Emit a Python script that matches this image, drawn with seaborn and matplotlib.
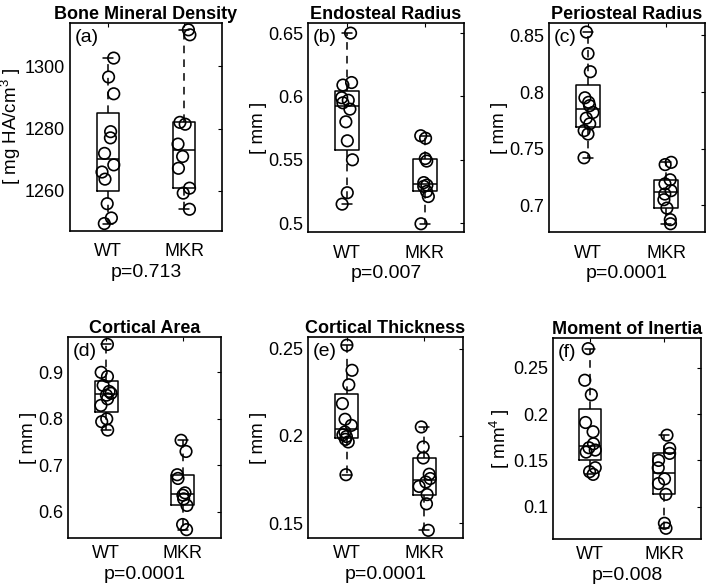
import numpy as np
import pandas as pd
import matplotlib
matplotlib.use("Agg")
import matplotlib.pyplot as plt
import seaborn as sns

groups = ["WT", "MKR"]
titles = ["Bone Mineral Density", "Endosteal Radius", "Periosteal Radius",
          "Cortical Area", "Cortical Thickness", "Moment of Inertia"]
letters = ["(a)", "(b)", "(c)", "(d)", "(e)", "(f)"]
ylabels = ["[ mg HA/cm$^3$ ]", "[ mm ]", "[ mm ]", "[ mm ]", "[ mm ]", "[ mm$^4$ ]"]
p_values = ["p=0.713", "p=0.007", "p=0.0001", "p=0.0001", "p=0.0001", "p=0.008"]

# values
bmd_wt = [1302.7, 1296.6, 1291.2, 1279.0, 1277.0, 1272.0, 1268.3, 1266.0, 1263.7, 1255.8, 1251.2, 1249.4]
bmd_mkr = [1311.8, 1310.2, 1282.0, 1281.4, 1275.0, 1271.0, 1267.2, 1260.8, 1259.2, 1254.0]
endo_wt = [0.650, 0.611, 0.609, 0.599, 0.597, 0.595, 0.590, 0.580, 0.565, 0.550, 0.524, 0.515]
endo_mkr = [0.569, 0.567, 0.551, 0.549, 0.532, 0.530, 0.529, 0.525, 0.521, 0.4995]
peri_wt = [0.853, 0.834, 0.818, 0.795, 0.791, 0.788, 0.782, 0.777, 0.772, 0.766, 0.763, 0.742]
peri_mkr = [0.738, 0.736, 0.7226, 0.719, 0.713, 0.710, 0.705, 0.6976, 0.6874, 0.6838]
area_wt = [0.960, 0.900, 0.891, 0.872, 0.859, 0.855, 0.851, 0.843, 0.829, 0.800, 0.794, 0.776]
area_mkr = [0.754, 0.730, 0.680, 0.672, 0.641, 0.636, 0.628, 0.614, 0.573, 0.562]
thick_wt = [0.252, 0.2376, 0.2293, 0.2185, 0.2095, 0.206, 0.2022, 0.2006, 0.1996, 0.198, 0.1965, 0.1777]
thick_mkr = [0.2051, 0.1936, 0.1873, 0.178, 0.1755, 0.1735, 0.171, 0.1663, 0.161, 0.1458]
inertia_wt = [0.2709, 0.2367, 0.221, 0.191, 0.181, 0.168, 0.1637, 0.1612, 0.159, 0.1421, 0.1378, 0.1349]
inertia_mkr = [0.1773, 0.163, 0.1576, 0.150, 0.142, 0.130, 0.125, 0.1133, 0.082, 0.0766]

series = [(bmd_wt, bmd_mkr), (endo_wt, endo_mkr), (peri_wt, peri_mkr),
          (area_wt, area_mkr), (thick_wt, thick_mkr), (inertia_wt, inertia_mkr)]

yticks = [[1260, 1280, 1300], [0.5, 0.55, 0.6, 0.65], [0.7, 0.75, 0.8, 0.85],
          [0.6, 0.7, 0.8, 0.9], [0.15, 0.2, 0.25], [0.1, 0.15, 0.2, 0.25]]
ylims = [(1247, 1314), (0.493, 0.658), (0.6765, 0.861),
         (0.544, 0.976), (0.1414, 0.2567), (0.065, 0.2824)]

sns.set_style("white")
plt.rcParams["font.family"] = ["Liberation Sans", "DejaVu Sans"]
plt.rcParams["mathtext.fontset"] = "custom"
plt.rcParams["mathtext.rm"] = "Liberation Sans"
plt.rcParams["mathtext.it"] = "Liberation Sans"
plt.rcParams["text.color"] = "black"
plt.rcParams["axes.labelcolor"] = "black"
plt.rcParams["axes.titlecolor"] = "black"

W, H = 709, 586
# axes boxes in pixels: left, top, right, bottom
boxes = [(70, 23, 222, 231), (308, 23, 464, 232), (549, 23, 705, 232),
         (68, 337, 221, 538), (308, 337, 463, 538), (553, 338, 701, 539)]


def matlab_box(vals):
    v = np.asarray(vals)
    q1, med, q3 = np.percentile(v, [25, 50, 75], method="hazen")
    iqr = q3 - q1
    lo = v[v >= q1 - 1.5 * iqr].min()
    hi = v[v <= q3 + 1.5 * iqr].max()
    return dict(med=med, q1=q1, q3=q3, whislo=lo, whishi=hi, fliers=[])


fig = plt.figure(figsize=(W / 100, H / 100), dpi=100)
np.random.seed(4)

for i in range(6):
    l, t, r, b = boxes[i]
    ax = fig.add_axes([l / W, 1 - b / H, (r - l) / W, (b - t) / H])
    wt, mkr = series[i]
    df = pd.DataFrame({"group": ["WT"] * len(wt) + ["MKR"] * len(mkr),
                       "value": wt + mkr})

    line = dict(color="black", linewidth=1.1)
    ax.bxp([matlab_box(wt), matlab_box(mkr)], positions=[0, 1], widths=0.3,
           showfliers=False, capwidths=0.13, boxprops=line, medianprops=line,
           capprops=line, whiskerprops=dict(color="black", linewidth=1.1, linestyle=(0, (5, 4))))

    sns.stripplot(data=df, x="group", y="value", order=groups, ax=ax, jitter=0.08,
                  size=8.3, color="black", linewidth=1.2, edgecolor="black")
    for c in ax.collections:
        c.set_facecolor("none")

    ax.set_xlim(-0.5, 1.5)
    ax.set_xticks([0, 1])
    ax.set_xticklabels(groups)
    ax.set_ylim(*ylims[i])
    ax.set_yticks(yticks[i])
    ax.yaxis.set_major_formatter(matplotlib.ticker.FormatStrFormatter("%g"))
    ax.set_xlabel("")
    ax.set_ylabel(ylabels[i], fontsize=13.5, labelpad=1)
    ax.set_title(titles[i], fontsize=13, fontweight="bold", pad=3)
    ax.tick_params(direction="in", length=3, top=True, right=True, labelsize=13,
                   colors="black")
    ax.tick_params(axis="x", pad=9 if i < 3 else 5)
    for s in ax.spines.values():
        s.set_color("black")
        s.set_linewidth(1.2)
    ax.text(0.03, 0.97, letters[i], transform=ax.transAxes, ha="left", va="top", fontsize=14)
    ax.text(0.5, -0.2 if i < 3 else -0.182, p_values[i], transform=ax.transAxes,
            ha="center", va="center", fontsize=14)

fig.savefig("out.png", dpi=100)
